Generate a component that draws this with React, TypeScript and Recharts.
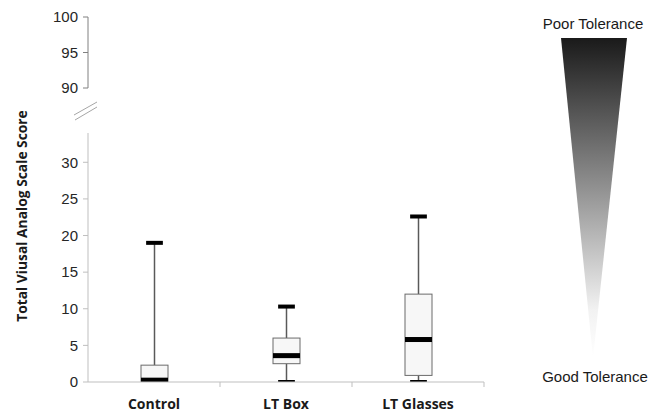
import { ComposedChart, Bar, XAxis, YAxis } from "recharts";

// box plot summary per group
const groups = ["Control", "LT Box", "LT Glasses"];
const minVals = [0, 0, 0];
const q1Vals = [0, 2.5, 0.9];
const medianVals = [0.25, 3.6, 5.8];
const q3Vals = [2.3, 6, 12];
const maxVals = [19, 10.3, 22.6];
const lowerTicks = [0, 5, 10, 15, 20, 25, 30];
const upperTicks = [90, 95, 100];

const data = groups.map((name, i) => ({
  name,
  range: [minVals[i], maxVals[i]],
  min: minVals[i],
  q1: q1Vals[i],
  median: medianVals[i],
  q3: q3Vals[i],
  max: maxVals[i],
}));

const CHART_W = 500;
const M_LEFT = 28;
const AXIS_W = 60;
const M_RIGHT = 16;
const BAND = (CHART_W - M_LEFT - AXIS_W - M_RIGHT) / groups.length;

const tickFont = { fontSize: 15, fill: "#262626", fontFamily: "Liberation Sans, Arial, sans-serif" };

const BoxShape = (props: any) => {
  const { x, y, width, height, payload } = props;
  const { min, q1, median, q3, max } = payload;
  const k = height / (max - min);
  const py = (v: number) => y + (max - v) * k;
  const cx = x + width / 2;
  const cap = width * 0.62;
  return (
    <g>
      <line x1={cx} x2={cx} y1={py(max)} y2={py(q3)} stroke="#595959" strokeWidth={1.5} />
      <line x1={cx} x2={cx} y1={py(q1)} y2={py(min)} stroke="#595959" strokeWidth={1.5} />
      <rect x={x} y={py(q3)} width={width} height={py(q1) - py(q3)} fill="#f7f7f7" stroke="#6b6b6b" strokeWidth={1} />
      <rect x={x} y={py(median) - 2.5} width={width} height={5} fill="#000" />
      <rect x={cx - cap / 2} y={py(max) - 2} width={cap} height={4} fill="#000" />
      <rect x={cx - cap / 2} y={py(min) - 2} width={cap} height={4} fill="#000" />
    </g>
  );
};

const CategoryTick = ({ x, y, payload }: any) => (
  <g>
    <line x1={x + BAND / 2} x2={x + BAND / 2} y1={y} y2={y + 5} stroke="#bfbfbf" />
    <text x={x} y={y + 27} textAnchor="middle" fontSize={14} fontWeight={700}
      fontFamily="Open Sans, sans-serif" fill="#1a1a1a">
      {payload.value}
    </text>
  </g>
);

export default function App() {
  return (
    <div style={{ position: "absolute", left: 0, top: 0, width: 651, height: 414, background: "#fff" }}>
      <div style={{ position: "absolute", left: 0, top: 0 }}>
        <ComposedChart width={CHART_W} height={100} data={data}
          margin={{ top: 17, right: M_RIGHT, bottom: 12, left: M_LEFT }}>
          <XAxis dataKey="name" hide />
          <YAxis type="number" domain={[90, 100]} ticks={upperTicks} width={AXIS_W}
            axisLine={{ stroke: "#808080" }} tickLine={{ stroke: "#808080" }}
            tickSize={5} tickMargin={5} tick={tickFont} allowDataOverflow />
        </ComposedChart>
      </div>
      <div style={{ position: "absolute", left: 0, top: 0 }}>
        <ComposedChart width={CHART_W} height={414} data={data}
          margin={{ top: 133, right: M_RIGHT, bottom: 0, left: M_LEFT }}>
          <XAxis dataKey="name" height={32} axisLine={{ stroke: "#bfbfbf" }} tickLine={false}
            tickSize={0} tickMargin={0} tick={<CategoryTick />} interval={0} />
          <YAxis type="number" domain={[0, 34]} ticks={lowerTicks} width={AXIS_W}
            axisLine={{ stroke: "#bfbfbf" }} tickLine={{ stroke: "#bfbfbf" }}
            tickSize={5} tickMargin={5} tick={tickFont} allowDataOverflow />
          <Bar dataKey="range" barSize={27} shape={<BoxShape />} isAnimationActive={false} />
        </ComposedChart>
      </div>
      <svg width={651} height={414} style={{ position: "absolute", left: 0, top: 0, pointerEvents: "none" }}>
        <defs>
          <linearGradient id="tolerance" x1="0" y1="0" x2="0" y2="1">
            <stop offset="0%" stopColor="#1a1a1a" />
            <stop offset="45%" stopColor="#8c8c8c" />
            <stop offset="85%" stopColor="#f2f2f2" />
            <stop offset="100%" stopColor="#ffffff" />
          </linearGradient>
        </defs>
        <text x={21} y={216} transform="rotate(-90 21 216)" textAnchor="middle" dominantBaseline="central"
          fontSize={13.8} fontWeight={700} fontFamily="Open Sans, sans-serif" fill="#1a1a1a">
          Total Viusal Analog Scale Score
        </text>
        <line x1={74} y1={115} x2={97} y2={102} stroke="#a6a6a6" />
        <line x1={75} y1={120} x2={97} y2={107} stroke="#a6a6a6" />
        <polygon points="561,38 627,38 593,358" fill="url(#tolerance)" />
        <text x={593} y={23} textAnchor="middle" dominantBaseline="central" fontSize={15}
          fontFamily="Liberation Sans, Arial, sans-serif" fill="#1a1a1a">Poor Tolerance</text>
        <text x={595} y={376} textAnchor="middle" dominantBaseline="central" fontSize={15}
          fontFamily="Liberation Sans, Arial, sans-serif" fill="#1a1a1a">Good Tolerance</text>
      </svg>
    </div>
  );
}
